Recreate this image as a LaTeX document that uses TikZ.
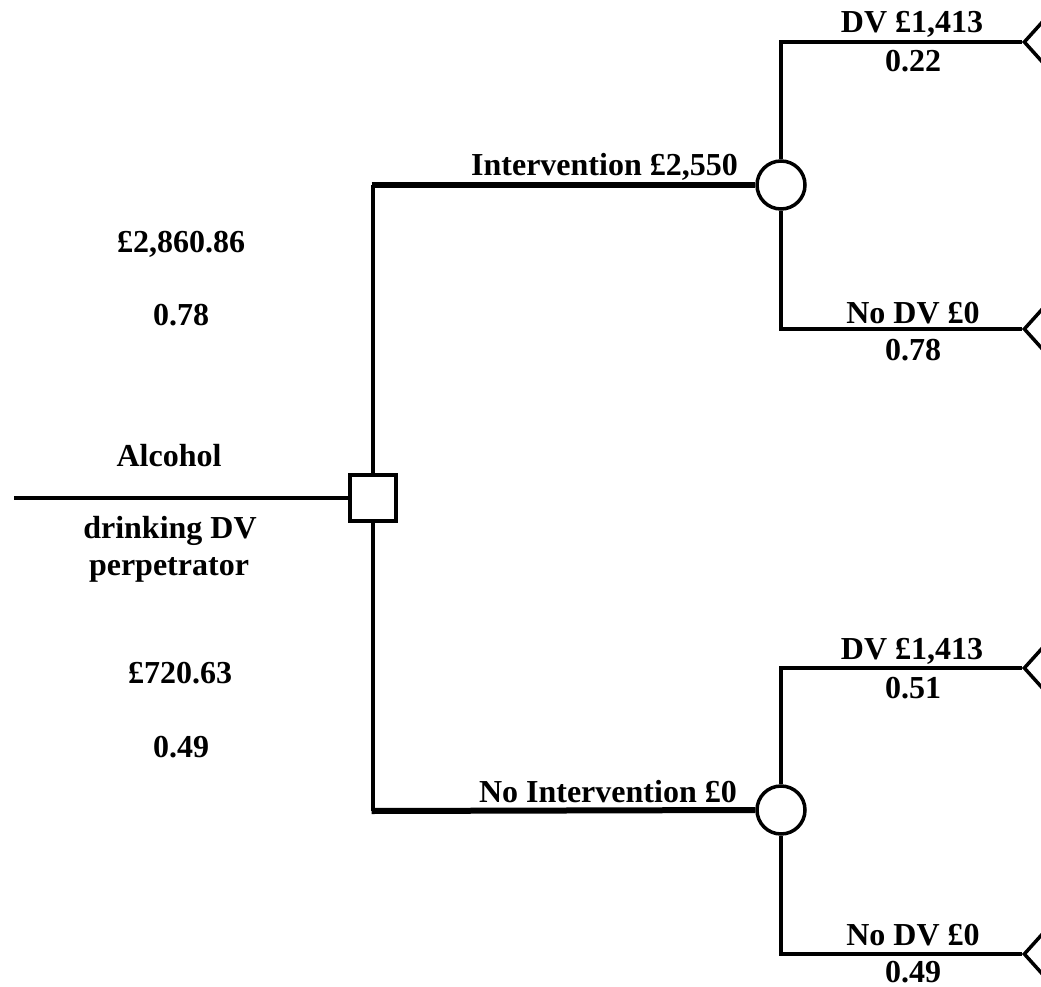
\documentclass[tikz,border=0pt]{standalone}
\usepackage{fontspec}
\setmainfont{Liberation Serif}
\usetikzlibrary{shapes.geometric}
\begin{document}
\begin{tikzpicture}[x=1pt,y=-1pt,
  lbl/.style={anchor=base,inner sep=0pt,font=\bfseries\fontsize{32}{36}\selectfont},
  decision/.style={draw,rectangle,line width=4pt,minimum size=46pt,inner sep=0pt},
  chance/.style={draw,circle,line width=3.5pt,minimum size=48pt,inner sep=0pt},
  terminal/.style={draw,isosceles triangle,shape border rotate=180,isosceles triangle apex angle=96,
    minimum height=40pt,line width=3.5pt,inner sep=0pt,anchor=apex},
  branch/.style={line width=3.5pt},
  mainbranch/.style={line width=6pt}
]
\path[use as bounding box] (0,0) rectangle (1041,987);
\clip (0,0) rectangle (1041,987);

% tree nodes
\coordinate (root) at (14,498);
\node[decision] (dec) at (373,498) {};
\node[chance] (c1) at (781,185) {};
\node[chance] (c2) at (781,810) {};
\node[terminal] (t1) at (1022,42) {};
\node[terminal] (t2) at (1022,329) {};
\node[terminal] (t3) at (1022,668) {};
\node[terminal] (t4) at (1022,954) {};

% connectors
\draw[branch] (root) -- (dec.west);
\draw[branch] (dec.north) -- (373,185);
\draw[branch] (dec.south) -- (373,811);
\draw[mainbranch] (371.5,185) -- (c1.west);
\draw[mainbranch] (371.5,811) -- (c2.west);
\draw[branch] (c1.north) |- (t1.apex);
\draw[branch] (c1.south) |- (t2.apex);
\draw[branch] (c2.north) |- (t3.apex);
\draw[branch] (c2.south) |- (t4.apex);

% branch labels
\node[lbl,anchor=base east] (l1) at (738,176) {Intervention £2,550};
\node[lbl,anchor=base east] (l2) at (737,802) {No Intervention £0};
\node[lbl] (p1) at (912,33) {DV £1,413};
\node[lbl] (q1) at (913,72) {0.22};
\node[lbl] (p2) at (913,323) {No DV £0};
\node[lbl] (q2) at (913,360) {0.78};
\node[lbl] (p3) at (912,659) {DV £1,413};
\node[lbl] (q3) at (913,698) {0.51};
\node[lbl] (p4) at (913,945) {No DV £0};
\node[lbl] (q4) at (913,982) {0.49};

% root labels
\node[lbl] (v1) at (181,252) {£2,860.86};
\node[lbl] (v2) at (181,325) {0.78};
\node[lbl] (n1) at (169,466) {Alcohol};
\node[lbl] (n2) at (170,538) {drinking DV};
\node[lbl] (n3) at (169,575) {perpetrator};
\node[lbl] (v3) at (180,683) {£720.63};
\node[lbl] (v4) at (181,757) {0.49};
\end{tikzpicture}
\end{document}
